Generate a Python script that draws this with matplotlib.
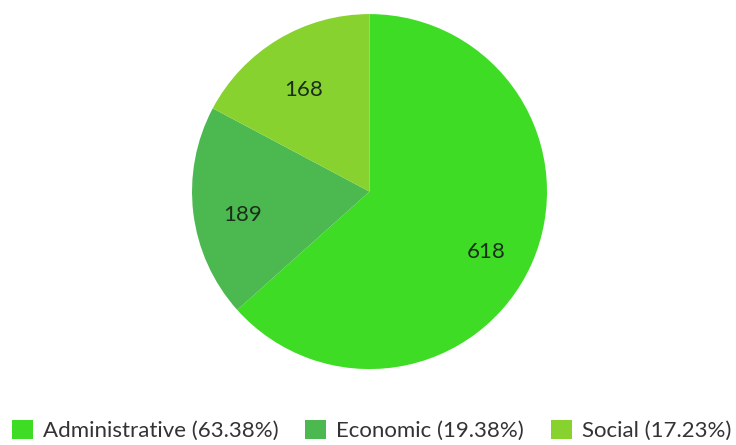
import matplotlib.pyplot as plt
from matplotlib.patches import Patch

plt.rcParams['font.family'] = ['Lato', 'DejaVu Sans']

categories = ['Administrative', 'Economic', 'Social']
counts = [618, 189, 168]
percents = [63.38, 19.38, 17.23]
colors = ['#3fdc25', '#4cb850', '#88d22f']

fig = plt.figure(figsize=(7.36, 4.45), dpi=100)
ax = fig.add_axes([0.2609, 0.1685, 0.4823, 0.802])

total = sum(counts)
wedges, texts, autotexts = ax.pie(
    counts, colors=colors, startangle=90, counterclock=False, radius=1,
    autopct=lambda p: f'{round(p * total / 100):d}', pctdistance=0.72,
    textprops={'fontsize': 16, 'color': '#1a2e1a'},
    wedgeprops={'linewidth': 0})
# labels sit a little lower in the original
for t in autotexts:
    x, y = t.get_position()
    t.set_position((x, y - 0.045))
ax.set_xlim(-1, 1)
ax.set_ylim(-1, 1)
ax.set_aspect('equal')

handles = [Patch(facecolor=c, edgecolor='none') for c in colors]
labels = [f'{n} ({p:.2f}%)' for n, p in zip(categories, percents)]
fig.legend(handles, labels, loc='center', bbox_to_anchor=(0.505, 0.033), ncol=3,
           frameon=False, fontsize=16, handlelength=0.95, handleheight=0.95,
           handletextpad=0.45, columnspacing=1.2, labelcolor='#333333',
           borderpad=0, borderaxespad=0)

fig.savefig('out.png', dpi=100)
